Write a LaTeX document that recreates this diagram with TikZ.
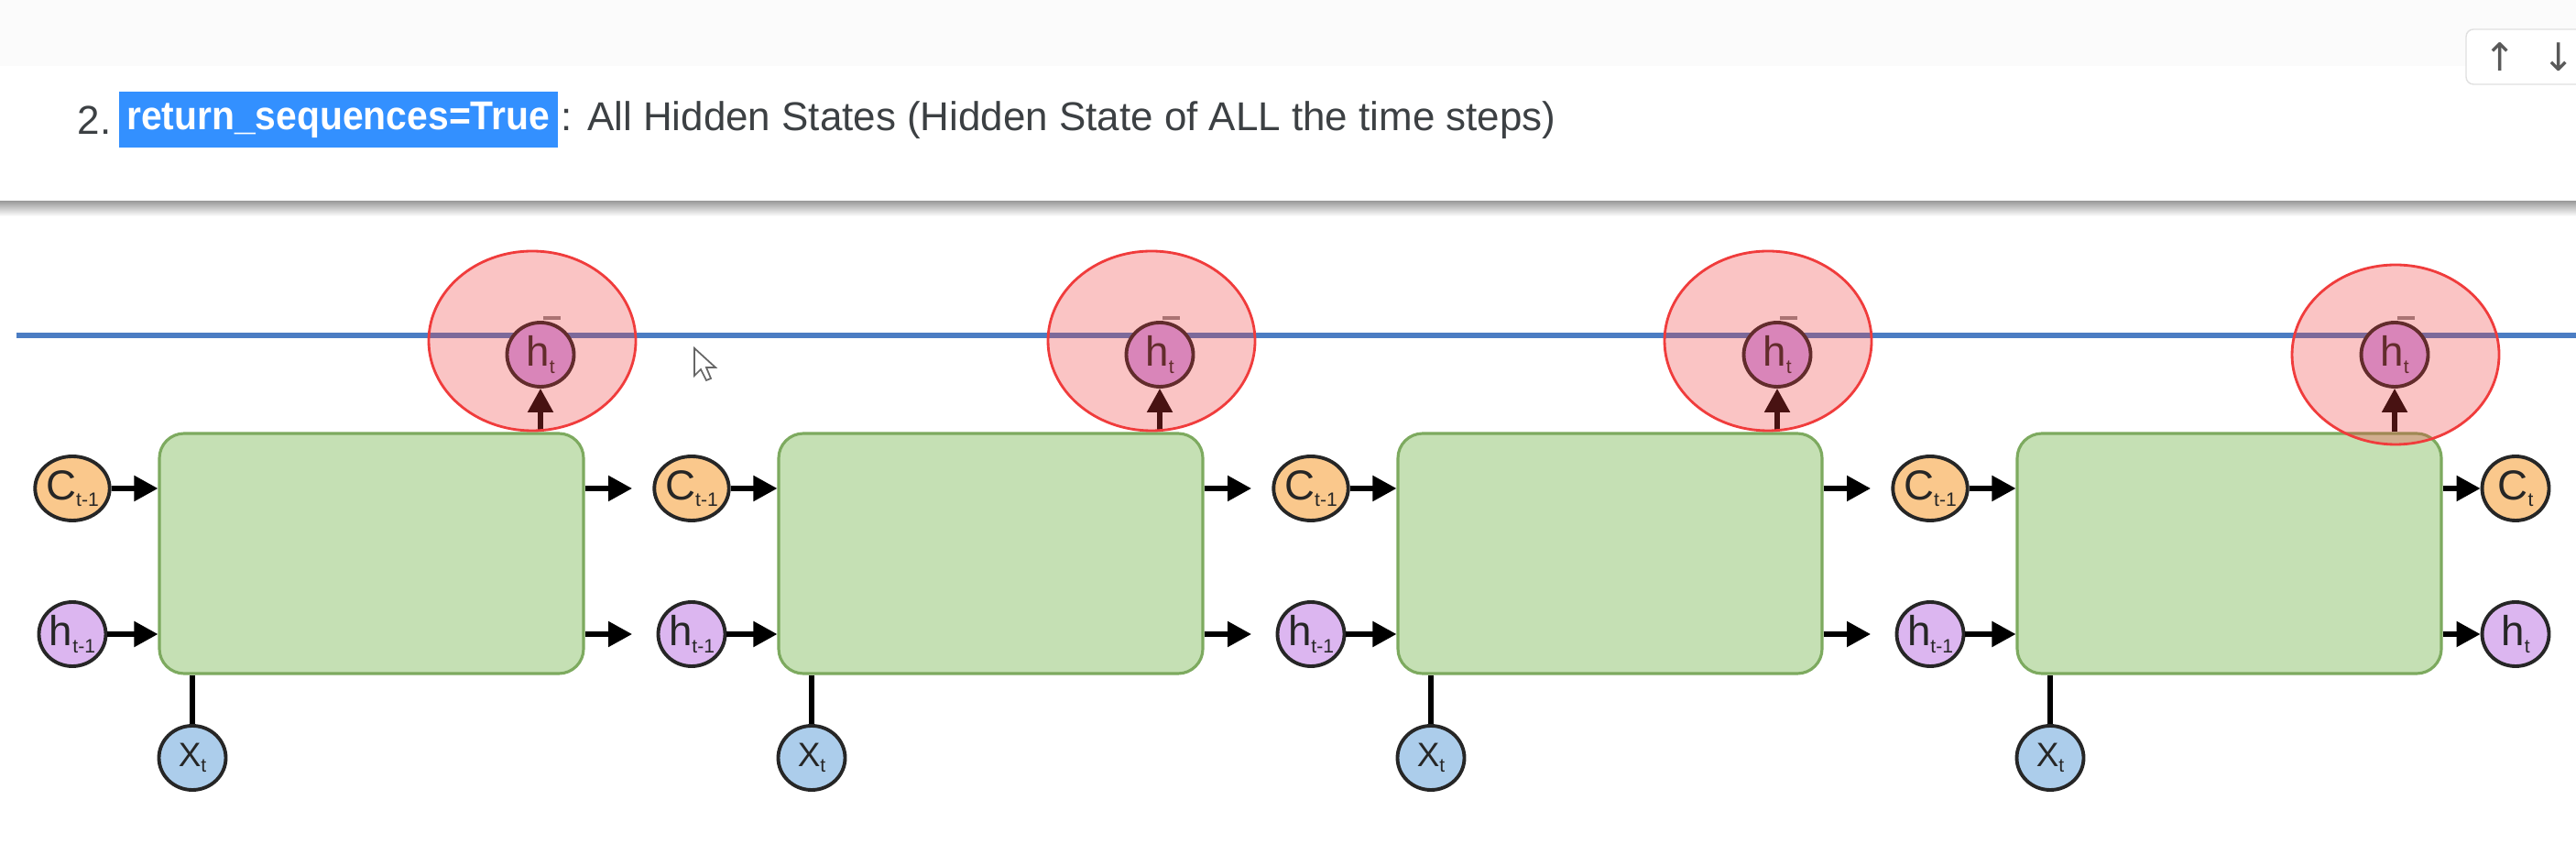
\documentclass[tikz,border=0pt]{standalone}
\usepackage{fontspec}
\setmainfont{Liberation Sans}
\newfontfamily\arrowfont{DejaVu Sans}
\usetikzlibrary{arrows.meta}
\usetikzlibrary{positioning}
\usetikzlibrary{shapes.geometric}

\definecolor{cellgreen}{RGB}{197,224,180}
\definecolor{cellrim}{RGB}{125,170,95}
\definecolor{cstate}{RGB}{250,200,140}
\definecolor{hstate}{RGB}{220,182,240}
\definecolor{xstate}{RGB}{172,205,235}
\definecolor{htop}{RGB}{208,165,240}
\definecolor{spotred}{RGB}{240,60,60}
\definecolor{lineblue}{RGB}{75,125,195}
\definecolor{hlblue}{RGB}{51,144,255}
\definecolor{txtgrey}{RGB}{60,64,67}
\definecolor{topgrey}{RGB}{251,251,251}

\newcommand{\stsub}[1]{\raisebox{-0.3ex}{\fontsize{6}{6}\selectfont #1}}

\begin{document}
\begin{tikzpicture}[>={Triangle[length=0.26cm,width=0.27cm]},
  cellbox/.style={draw=cellrim,fill=cellgreen,rounded corners=0.27cm,minimum width=4.63cm,minimum height=2.62cm,line width=0.9pt},
  stnode/.style={draw=black!85,ellipse,line width=1.1pt,minimum width=0.73cm,minimum height=0.70cm,inner sep=0pt,text=black!85,font=\fontsize{13}{13}\selectfont},
  cnode/.style={stnode,fill=cstate},
  hnode/.style={stnode,fill=hstate},
  xnode/.style={stnode,fill=xstate,font=\fontsize{10.5}{10.5}\selectfont},
  onode/.style={stnode,fill=htop},
  spot/.style={ellipse,draw=spotred,fill=spotred,fill opacity=0.3,line width=0.8pt,minimum width=2.26cm,minimum height=1.96cm},
  link/.style={line width=1.5pt}]
  \useasboundingbox (0,0) rectangle (28.12,9.44);
  \fill[white] (0,0) rectangle (28.12,9.44);
  \fill[topgrey] (0,8.72) rectangle (28.12,9.44);
  \shade[top color=black!40,bottom color=white] (0,7.08) rectangle (28.12,7.25);
  \fill[white] (0,7.25) rectangle (28.12,8.72);

  % toolbar at top right
  \draw[black!12,fill=white,rounded corners=0.08cm] (26.92,9.12) rectangle (28.4,8.52);
  \node[text=black!65,font=\arrowfont\fontsize{12}{12}\selectfont] (up) at (27.29,8.82) {↑};
  \node[text=black!65,font=\arrowfont\fontsize{12}{12}\selectfont] (dn) at (27.93,8.82) {↓};

  % heading
  \node[anchor=west,inner sep=0pt,text=txtgrey,font=\fontsize{12.5}{12.5}\selectfont] (num) at (0.84,8.13) {2.};
  \node[anchor=west,fill=hlblue,text=white,inner sep=0pt,minimum width=4.79cm,minimum height=0.61cm,font=\bfseries\fontsize{12.5}{12.5}\selectfont] (rs) at (1.29,8.135) {\scalebox{0.93}[1]{return\_sequences=True}};
  \node[anchor=west,inner sep=0pt,text=txtgrey,font=\fontsize{12.5}{12.5}\selectfont] (desc) at (6.12,8.13) {: All Hidden States (Hidden State of ALL the time steps)};

  \draw[lineblue,line width=1.5pt] (0.18,5.78) -- (28.12,5.78);

  % cells
  \node[cellbox] (b1) at (4.055,3.40) {};
  \node[cellbox] (b2) at (10.815,3.40) {};
  \node[cellbox] (b3) at (17.575,3.40) {};
  \node[cellbox] (b4) at (24.335,3.40) {};

  \node[cnode] (c1) at (0.79,4.11) {C\stsub{t-1}};
  \node[cnode] (c2) at (7.55,4.11) {C\stsub{t-1}};
  \node[cnode] (c3) at (14.31,4.11) {C\stsub{t-1}};
  \node[cnode] (c4) at (21.07,4.11) {C\stsub{t-1}};
  \node[cnode] (c5) at (27.46,4.11) {C\stsub{t}};

  \node[hnode] (h1) at (0.79,2.52) {h\stsub{t-1}};
  \node[hnode] (h2) at (7.55,2.52) {h\stsub{t-1}};
  \node[hnode] (h3) at (14.31,2.52) {h\stsub{t-1}};
  \node[hnode] (h4) at (21.07,2.52) {h\stsub{t-1}};
  \node[hnode] (h5) at (27.46,2.52) {h\stsub{t}};

  \node[xnode] (x1) at (2.10,1.17) {X\stsub{t}};
  \node[xnode] (x2) at (8.86,1.17) {X\stsub{t}};
  \node[xnode] (x3) at (15.62,1.17) {X\stsub{t}};
  \node[xnode] (x4) at (22.38,1.17) {X\stsub{t}};

  \node[onode] (o1) at (5.90,5.57) {h\stsub{t}};
  \node[onode] (o2) at (12.66,5.57) {h\stsub{t}};
  \node[onode] (o3) at (19.40,5.57) {h\stsub{t}};
  \node[onode] (o4) at (26.14,5.57) {h\stsub{t}};

  \coordinate (ec1) at (6.90,4.11);
  \coordinate (eh1) at (6.90,2.52);
  \coordinate (ec2) at (13.66,4.11);
  \coordinate (eh2) at (13.66,2.52);
  \coordinate (ec3) at (20.42,4.11);
  \coordinate (eh3) at (20.42,2.52);

  \draw[link,->] (c1) -- (b1.west |- c1);
  \draw[link,->] (h1) -- (b1.west |- h1);
  \draw[link,->] (c2) -- (b2.west |- c2);
  \draw[link,->] (h2) -- (b2.west |- h2);
  \draw[link,->] (c3) -- (b3.west |- c3);
  \draw[link,->] (h3) -- (b3.west |- h3);
  \draw[link,->] (c4) -- (b4.west |- c4);
  \draw[link,->] (h4) -- (b4.west |- h4);

  \draw[link,->] (b1.east |- ec1) -- (ec1);
  \draw[link,->] (b1.east |- eh1) -- (eh1);
  \draw[link,->] (b2.east |- ec2) -- (ec2);
  \draw[link,->] (b2.east |- eh2) -- (eh2);
  \draw[link,->] (b3.east |- ec3) -- (ec3);
  \draw[link,->] (b3.east |- eh3) -- (eh3);
  \draw[link,->] (b4.east |- c5) -- (c5);
  \draw[link,->] (b4.east |- h5) -- (h5);

  \draw[link] (x1) -- (x1 |- b1.south);
  \draw[link] (x2) -- (x2 |- b2.south);
  \draw[link] (x3) -- (x3 |- b3.south);
  \draw[link] (x4) -- (x4 |- b4.south);

  \draw[link,->] (o1 |- b1.north) -- (o1);
  \draw[link,->] (o2 |- b2.north) -- (o2);
  \draw[link,->] (o3 |- b3.north) -- (o3);
  \draw[link,->] (o4 |- b4.north) -- (o4);

  % little bars over the outputs
  \draw[black!45,line width=1pt] ([xshift=0.03cm,yshift=0.40cm]o1.center) -- ++(0.19,0);
  \draw[black!45,line width=1pt] ([xshift=0.03cm,yshift=0.40cm]o2.center) -- ++(0.19,0);
  \draw[black!45,line width=1pt] ([xshift=0.03cm,yshift=0.40cm]o3.center) -- ++(0.19,0);
  \draw[black!45,line width=1pt] ([xshift=0.03cm,yshift=0.40cm]o4.center) -- ++(0.19,0);

  % red highlights
  \node[spot] (r1) at (5.81,5.72) {};
  \node[spot] (r2) at (12.57,5.72) {};
  \node[spot] (r3) at (19.30,5.72) {};
  \node[spot] (r4) at (26.15,5.57) {};

  % mouse pointer
  \draw[black!60,fill=white,line width=0.5pt] (7.58,5.64) -- ++(0,-0.30) -- ++(0.07,0.07) -- ++(0.06,-0.12) -- ++(0.05,0.02) -- ++(-0.05,0.12) -- ++(0.10,0) -- cycle;
\end{tikzpicture}
\end{document}
